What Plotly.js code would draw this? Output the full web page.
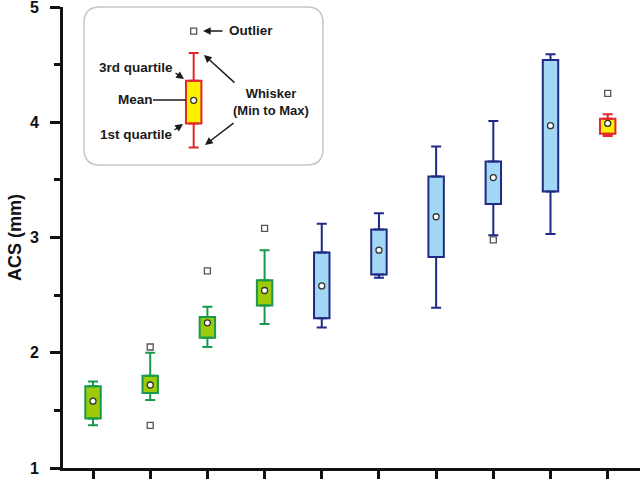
<!DOCTYPE html>
<html>
<head>
<meta charset="utf-8">
<script src="https://cdn.plot.ly/plotly-3.0.1.min.js"></script>
<style>html,body{margin:0;padding:0;background:#fff;}#chart{width:640px;height:479px;}</style>
</head>
<body>
<div id="chart"></div>
<script>
// ---- data ----
const groups      = [1, 2, 3, 4, 5, 6, 7, 8, 9, 10];
const seriesColor = ['green','green','green','green','blue','blue','blue','blue','blue','red'];
const whiskerMax  = [1.75, 2.00, 2.40, 2.89, 3.12, 3.21, 3.79, 4.01, 4.59, 4.07];
const quart3      = [1.71, 1.80, 2.31, 2.63, 2.87, 3.07, 3.53, 3.66, 4.54, 4.03];
const means       = [1.58, 1.72, 2.26, 2.54, 2.58, 2.89, 3.18, 3.52, 3.97, 3.99];
const quart1      = [1.43, 1.65, 2.13, 2.41, 2.30, 2.68, 2.83, 3.29, 3.40, 3.90];
const whiskerMin  = [1.37, 1.59, 2.05, 2.25, 2.22, 2.65, 2.39, 3.02, 3.03, 3.88];
const outlierX    = [2, 2, 3, 4, 8, 10];
const outlierY    = [2.05, 1.37, 2.71, 3.08, 2.98, 4.25];
// key (legend) sample box
const keyX = [2.76];
const keyMax = [4.60], keyQ3 = [4.36], keyMean = [4.19], keyQ1 = [3.99], keyMin = [3.78];
const keyOutlier = [4.79];

const palette = {
  green: {fill: '#9dcb0a', line: '#18994e'},
  blue:  {fill: '#a2d8f6', line: '#1f2a84'},
  red:   {fill: '#fff200', line: '#e3262a'}
};

const traces = [];
function addBoxes(xs, q1, q3, mn, mx, avg, col) {
  traces.push({
    type: 'bar', x: xs, base: q1, y: q3.map((v, i) => v - q1[i]),
    width: xs.map(() => 0.27),
    marker: {color: col.fill, line: {color: col.line, width: 2}},
    hoverinfo: 'skip', showlegend: false
  });
  traces.push({
    type: 'scatter', mode: 'markers', x: xs, y: q3,
    marker: {size: 1, color: 'rgba(0,0,0,0)'},
    error_y: {type: 'data', symmetric: false, array: mx.map((v, i) => v - q3[i]),
              arrayminus: xs.map(() => 0), width: 5, thickness: 2, color: col.line},
    hoverinfo: 'skip', showlegend: false
  });
  traces.push({
    type: 'scatter', mode: 'markers', x: xs, y: q1,
    marker: {size: 1, color: 'rgba(0,0,0,0)'},
    error_y: {type: 'data', symmetric: false, array: xs.map(() => 0),
              arrayminus: mn.map((v, i) => q1[i] - v), width: 5, thickness: 2, color: col.line},
    hoverinfo: 'skip', showlegend: false
  });
  traces.push({
    type: 'scatter', mode: 'markers', x: xs, y: avg,
    marker: {symbol: 'circle', size: 6, color: '#ffffff', line: {color: '#333333', width: 1.3}},
    hoverinfo: 'skip', showlegend: false
  });
}
['green', 'blue', 'red'].forEach(c => {
  const idx = groups.map((g, i) => i).filter(i => seriesColor[i] === c);
  const pick = arr => idx.map(i => arr[i]);
  addBoxes(pick(groups), pick(quart1), pick(quart3), pick(whiskerMin), pick(whiskerMax), pick(means), palette[c]);
});
addBoxes(keyX, keyQ1, keyQ3, keyMin, keyMax, keyMean, palette.red);
traces.push({
  type: 'scatter', mode: 'markers', x: outlierX.concat(keyX), y: outlierY.concat(keyOutlier),
  marker: {symbol: 'square', size: 6, color: '#ffffff', line: {color: '#555555', width: 1.3}},
  hoverinfo: 'skip', showlegend: false
});

// pixel -> paper helpers for the key illustration
const L = 63, T = 7, W = 577, H = 461;
const px = x => (x - L) / W;
const py = y => (T + H - y) / H;

function rrect(x0, y0, x1, y1, r) {
  const P = (x, y) => px(x) + ',' + py(y);
  return 'M' + P(x0 + r, y0) + ' L' + P(x1 - r, y0) + ' Q' + P(x1, y0) + ' ' + P(x1, y0 + r) +
         ' L' + P(x1, y1 - r) + ' Q' + P(x1, y1) + ' ' + P(x1 - r, y1) +
         ' L' + P(x0 + r, y1) + ' Q' + P(x0, y1) + ' ' + P(x0, y1 - r) +
         ' L' + P(x0, y0 + r) + ' Q' + P(x0, y0) + ' ' + P(x0 + r, y0) + ' Z';
}

const font = {family: 'Liberation Sans, Arial, sans-serif', size: 13.5, color: '#1a1a1a'};
function label(text, x, y, anchor, size) {
  return {xref: 'paper', yref: 'paper', x: px(x), y: py(y), text: '<b>' + text + '</b>',
          showarrow: false, xanchor: anchor || 'center', yanchor: 'middle',
          font: Object.assign({}, font, size ? {size: size} : {})};
}
function arrow(hx, hy, tx, ty) {
  return {xref: 'paper', yref: 'paper', x: px(hx), y: py(hy), ax: tx - hx, ay: ty - hy,
          text: '', showarrow: true, arrowhead: 2, arrowsize: 1.1, arrowwidth: 1.4,
          arrowcolor: '#1a1a1a', standoff: 0, startstandoff: 0};
}

const layout = {
  width: 640, height: 479,
  margin: {l: L, r: 0, t: T, b: 479 - T - H},
  paper_bgcolor: '#ffffff', plot_bgcolor: '#ffffff',
  barmode: 'overlay', showlegend: false,
  xaxis: {range: [0.475, 10.565], tickmode: 'array', tickvals: groups,
          showticklabels: false, ticks: 'outside', ticklen: 12, tickwidth: 3, tickcolor: '#111',
          showline: true, linewidth: 3, linecolor: '#111', showgrid: false, zeroline: false},
  yaxis: {range: [1, 5], dtick: 1, tick0: 1, ticks: 'outside', ticklen: 10, tickwidth: 3, tickcolor: '#111',
          minor: {dtick: 0.5, ticks: 'outside', ticklen: 6, tickwidth: 3, tickcolor: '#111'},
          showline: true, linewidth: 3, linecolor: '#111', showgrid: false, zeroline: false,
          tickfont: {family: 'Liberation Sans, Arial, sans-serif', size: 16, color: '#111', weight: 'bold'},
          ticklabelstandoff: 8, ticklabeloverflow: 'allow',
          title: {text: '<b>ACS (mm)</b>', standoff: 4,
                  font: {family: 'Liberation Sans, Arial, sans-serif', size: 18, color: '#111'}}},
  shapes: [
    {type: 'path', xref: 'paper', yref: 'paper', path: rrect(84, 7, 323, 165, 16),
     fillcolor: '#ffffff', line: {color: '#c6c6c6', width: 1.5}, layer: 'below'},
    {type: 'line', xref: 'paper', yref: 'paper', x0: px(153), y0: py(100), x1: px(186), y1: py(100),
     line: {color: '#1a1a1a', width: 1.4}}
  ],
  annotations: [
    label('Outlier', 227, 31, 'left'),
    label('3rd quartile', 136, 67),
    label('Mean', 135, 100),
    label('1st quartile', 136, 135),
    label('Whisker<br>(Min to Max)', 271, 102, 'center', 13),
    arrow(203, 31, 224, 31),
    arrow(184, 79, 174, 72),
    arrow(183, 124, 173, 131),
    arrow(204, 55, 236, 84),
    arrow(205, 145, 235, 122)
  ]
};

Plotly.newPlot('chart', traces, layout, {staticPlot: true, displayModeBar: false});
</script>
</body>
</html>
